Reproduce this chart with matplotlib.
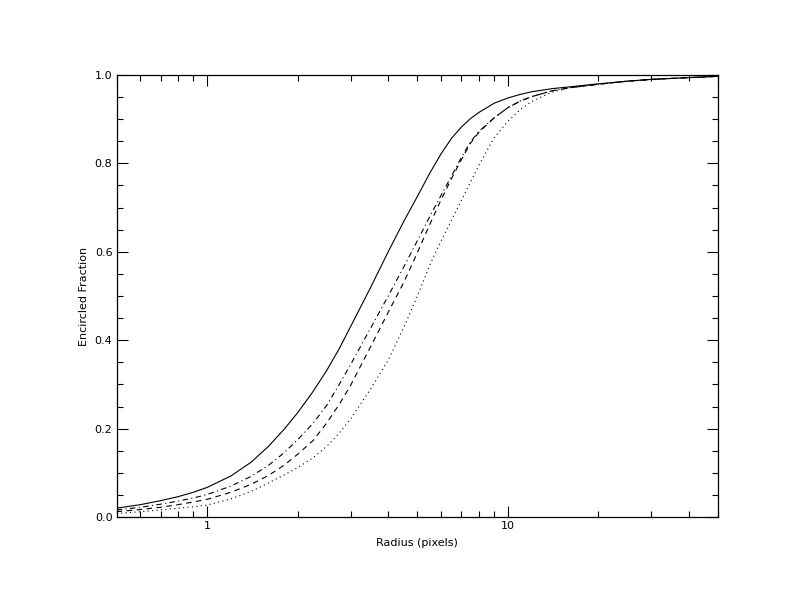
import matplotlib
matplotlib.use("Agg")
import matplotlib.pyplot as plt
from matplotlib.ticker import FixedLocator, NullFormatter, FixedFormatter

radius = [0.5, 0.6, 0.7, 0.8, 0.9, 1.0, 1.2, 1.4, 1.6, 1.8, 2.0, 2.25, 2.5, 2.75,
          3.0, 3.5, 4.0, 4.5, 5.0, 5.5, 6.0, 6.5, 7.0, 7.5, 8.0, 9.0, 10.0, 11.0,
          12.0, 14.0, 16.0, 20.0, 25.0, 30.0, 40.0, 50.0]
solid = [0.020, 0.028, 0.037, 0.046, 0.056, 0.067, 0.093, 0.124, 0.160, 0.198,
         0.236, 0.284, 0.332, 0.381, 0.431, 0.520, 0.600, 0.668, 0.725, 0.778,
         0.822, 0.857, 0.882, 0.901, 0.915, 0.936, 0.948, 0.956, 0.962, 0.969,
         0.973, 0.980, 0.986, 0.990, 0.994, 0.997]
dashdot = [0.016, 0.022, 0.029, 0.036, 0.043, 0.051, 0.070, 0.092, 0.117, 0.145,
           0.175, 0.212, 0.253, 0.300, 0.345, 0.428, 0.500, 0.565, 0.625, 0.680,
           0.728, 0.772, 0.813, 0.848, 0.872, 0.903, 0.926, 0.941, 0.951, 0.964,
           0.971, 0.979, 0.986, 0.990, 0.994, 0.997]
dashed = [0.012, 0.017, 0.022, 0.028, 0.034, 0.040, 0.056, 0.074, 0.094, 0.117,
          0.142, 0.173, 0.213, 0.255, 0.298, 0.386, 0.463, 0.530, 0.598, 0.662,
          0.718, 0.766, 0.808, 0.845, 0.870, 0.903, 0.926, 0.941, 0.951, 0.964,
          0.971, 0.979, 0.986, 0.990, 0.994, 0.997]
dotted = [0.008, 0.012, 0.016, 0.020, 0.023, 0.027, 0.041, 0.058, 0.077, 0.095,
          0.112, 0.134, 0.160, 0.190, 0.222, 0.290, 0.355, 0.428, 0.500, 0.570,
          0.625, 0.672, 0.716, 0.757, 0.795, 0.858, 0.895, 0.922, 0.940, 0.961,
          0.971, 0.979, 0.986, 0.990, 0.994, 0.997]

y_ticks = [0.0, 0.2, 0.4, 0.6, 0.8, 1.0]
y_ticklabels = ["0.0", "0.2", "0.4", "0.6", "0.8", "1.0"]
x_ticks = [1, 10]
x_ticklabels = ["1", "10"]

fig = plt.figure(figsize=(7.92, 6.12), dpi=100)
ax = fig.add_axes([0.1473, 0.1552, 0.9066 - 0.1473, 0.8775 - 0.1552])

lw = 0.8
ax.plot(radius, solid, color="black", lw=lw, linestyle="-")
ax.plot(radius, dashdot, color="black", lw=lw, linestyle=(0, (5, 3, 1, 3)))
ax.plot(radius, dashed, color="black", lw=lw, linestyle=(0, (5, 4)))
ax.plot(radius, dotted, color="black", lw=lw, linestyle=(0, (1, 3)))

ax.set_xscale("log")
ax.set_xlim(0.5, 50)
ax.set_ylim(0.0, 1.0)

ax.xaxis.set_major_locator(FixedLocator(x_ticks))
ax.xaxis.set_major_formatter(FixedFormatter(x_ticklabels))
minors = [m * d for d in (0.1, 1, 10) for m in range(2, 10) if 0.5 <= m * d <= 50]
ax.xaxis.set_minor_locator(FixedLocator(minors))
ax.xaxis.set_minor_formatter(NullFormatter())

ax.yaxis.set_major_locator(FixedLocator(y_ticks))
ax.yaxis.set_major_formatter(FixedFormatter(y_ticklabels))
ax.yaxis.set_minor_locator(FixedLocator([i * 0.05 for i in range(21)]))

for s in ax.spines.values():
    s.set_linewidth(0.9)
ax.tick_params(which="both", direction="in", top=True, right=True,
               width=0.8, labelsize=8, pad=3)
ax.tick_params(which="major", length=8)
ax.tick_params(which="minor", length=4.5)

ax.set_xlabel("Radius (pixels)", fontsize=8, labelpad=5)
ax.set_ylabel("Encircled Fraction", fontsize=8, labelpad=4)

fig.savefig("out.png", dpi=100)
